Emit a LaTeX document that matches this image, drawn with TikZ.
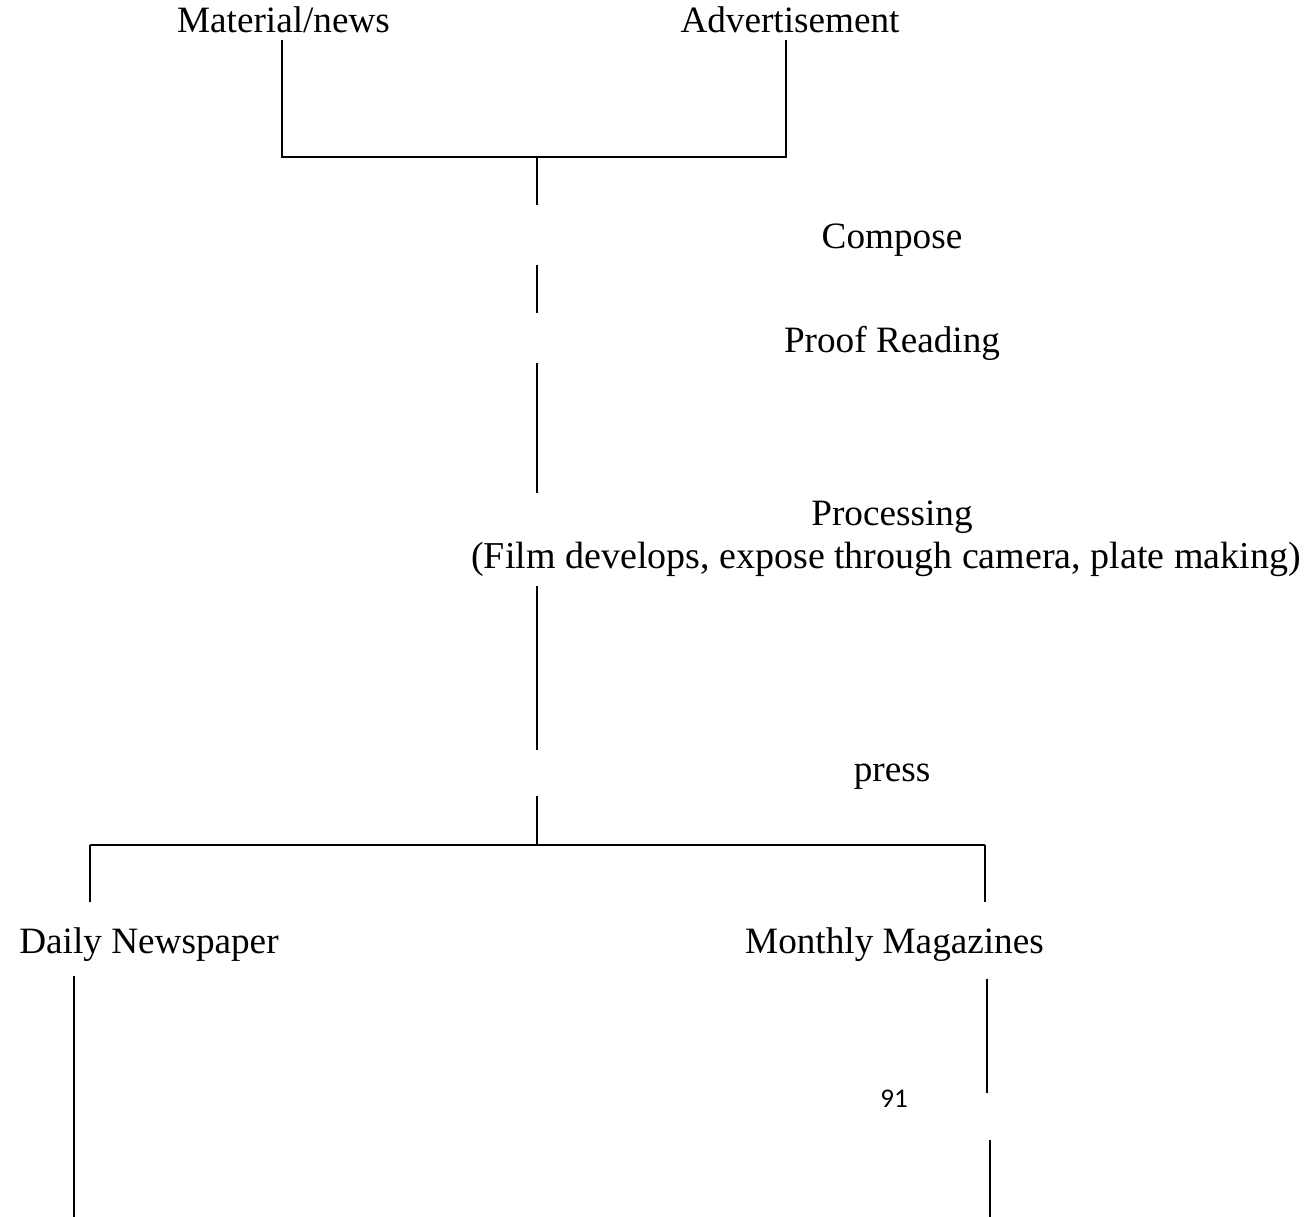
\documentclass[tikz,border=0pt]{standalone}
\usepackage{fontspec}
\setmainfont{Liberation Serif}
\newfontfamily\calib{Carlito}
\begin{document}
\begin{tikzpicture}[x=1pt,y=-1pt,
  lbl/.style={anchor=base,inner sep=0pt,font=\fontsize{37.2}{44}\selectfont},
  pgnum/.style={anchor=base,inner sep=0pt,font=\calib\fontsize{27}{32}\selectfont},
  conn/.style={line width=2pt,line cap=butt},
  bar/.style={line width=2.6pt}]
\useasboundingbox[fill=white] (0,0) rectangle (1304,1217);
% labels
\node[lbl] (mat) at (283.5,33) {Material/news};
\node[lbl] (adv) at (790,33) {Advertisement};
\node[lbl] (comp) at (892,249) {Compose};
\node[lbl] (proof) at (892,352) {Proof Reading};
\node[lbl] (proc) at (892,525) {Processing};
\node[lbl,font=\fontsize{38}{44}\selectfont] (film) at (886,568) {(Film develops, expose through camera, plate making)};
\node[lbl] (press) at (892,781) {press};
\node[lbl] (daily) at (149,953) {Daily Newspaper};
\node[lbl] (month) at (894.5,953) {Monthly Magazines};
\node[pgnum] (pg) at (894,1107) {91};
% coordinates
\coordinate (m1) at (282,40);
\coordinate (m2) at (282,157);
\coordinate (a1) at (786,40);
\coordinate (a2) at (786,157);
\coordinate (s0) at (537,157);
\coordinate (s1) at (537,205);
\coordinate (s2) at (537,265);
\coordinate (s3) at (537,313);
\coordinate (s4) at (537,363);
\coordinate (s5) at (537,493);
\coordinate (s6) at (537,586);
\coordinate (s7) at (537,750);
\coordinate (s8) at (537,796);
\coordinate (s9) at (537,845);
\coordinate (d1) at (90,845);
\coordinate (d2) at (90,902);
\coordinate (g1) at (985,845);
\coordinate (g2) at (985,902);
\coordinate (d3) at (74,976);
\coordinate (d4) at (74,1217);
\coordinate (g3) at (987,979);
\coordinate (g4) at (987,1093);
\coordinate (g5) at (990,1140);
\coordinate (g6) at (990,1217);
% connectors
\draw[conn] (m1) -- (m2) -- (a2) -- (a1);
\draw[conn] (s0) -- (s1);
\draw[conn] (s2) -- (s3);
\draw[conn] (s4) -- (s5);
\draw[conn] (s6) -- (s7);
\draw[conn] (s8) -- (s9);
\draw[conn] (d2) -- (d1);
\draw[bar] (d1) -- (g1);
\draw[conn] (g1) -- (g2);
\draw[conn] (d3) -- (d4);
\draw[conn] (g3) -- (g4);
\draw[conn] (g5) -- (g6);
\end{tikzpicture}
\end{document}
